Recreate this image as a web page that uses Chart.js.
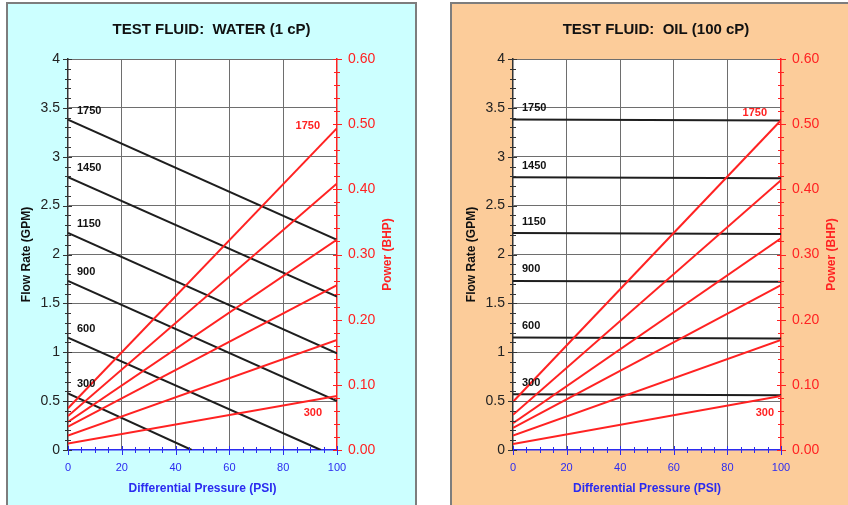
<!DOCTYPE html>
<html><head><meta charset="utf-8">
<script src="https://cdn.jsdelivr.net/npm/chart.js@4/dist/chart.umd.min.js"></script>
<style>
html,body{margin:0;padding:0;background:#fff;width:848px;height:505px;overflow:hidden;position:relative;font-family:"Liberation Sans",Arial,sans-serif}
.panel{position:absolute;box-sizing:border-box;border:2px solid #7d7d7d}
#p1{left:6px;top:2px;width:411px;height:520px;background:#ccffff}
#p2{left:450px;top:2px;width:420px;height:520px;background:#fccc9a}
canvas{position:absolute}
#c1{left:8px;top:5px}
#c2{left:453px;top:5px}
</style></head><body>
<div class="panel" id="p1"></div><div class="panel" id="p2"></div>
<canvas id="c1" width="405" height="500"></canvas>
<canvas id="c2" width="395" height="500"></canvas>
<script>
// ---- data ----
const speeds = [300, 600, 900, 1150, 1450, 1750];           // RPM labels
const xTicks = [0, 20, 40, 60, 80, 100];                    // differential pressure (PSI)
// Water (1 cP): flow rate (GPM) lines
const waterFlowStart = [0.58, 1.15, 1.73, 2.22, 2.79, 3.38]; // at 0 PSI
const waterFlowEndPsi = [46, 94, 100, 100, 100, 100];
const waterFlowEnd = [0.00, 0.00, 0.50, 0.99, 1.57, 2.15];
// Water: power (BHP) lines, at 0 and 100 PSI
const waterPowerStart = [0.010, 0.022, 0.036, 0.043, 0.052, 0.064];
const waterPowerEnd = [0.083, 0.169, 0.253, 0.323, 0.409, 0.494];
// Oil (100 cP): flow rate (GPM) lines, at 0 and 100 PSI
const oilFlowStart = [0.57, 1.15, 1.73, 2.22, 2.79, 3.38];
const oilFlowEnd = [0.56, 1.14, 1.72, 2.21, 2.78, 3.37];
// Oil: power (BHP) lines
const oilPowerStart = [0.009, 0.022, 0.034, 0.041, 0.054, 0.074];
const oilPowerEnd = [0.083, 0.169, 0.253, 0.325, 0.414, 0.506];

const FONT = '"Liberation Sans", Arial, sans-serif';
Chart.defaults.font.family = FONT;
const BLACK = '#1e1e1e', RED = '#ff2222', BLUE = '#2b2bf0', GRID = '#6e6e6e';

const deco = {
  id: 'deco',
  beforeDraw(chart) {
    const {ctx, chartArea: a} = chart;
    ctx.save(); ctx.fillStyle = '#fff';
    ctx.fillRect(a.left, a.top, a.right - a.left, a.bottom - a.top);
    ctx.restore();
  },
  afterDraw(chart) {
    const o = chart.options.plugins.deco;
    const {ctx, chartArea: a} = chart;
    const {x, y, y1} = chart.scales;
    ctx.save();
    ctx.lineWidth = 1;
    // left axis ticks
    ctx.strokeStyle = '#333';
    for (let i = 0; i <= 40; i++) {
      const p = Math.round(y.getPixelForValue(i / 10)) + 0.5, maj = i % 5 === 0;
      ctx.beginPath(); ctx.moveTo(a.left - (maj ? 5 : 3), p); ctx.lineTo(a.left + (maj ? 4 : 3), p); ctx.stroke();
    }
    // right axis ticks
    ctx.strokeStyle = RED;
    for (let i = 0; i <= 30; i++) {
      const p = Math.round(y1.getPixelForValue(i * 0.02)) + 0.5, maj = i % 5 === 0;
      ctx.beginPath(); ctx.moveTo(a.right - (maj ? 4 : 3), p); ctx.lineTo(a.right + (maj ? 5 : 3), p); ctx.stroke();
    }
    // bottom axis ticks
    ctx.strokeStyle = BLUE;
    for (let i = 0; i <= 20; i++) {
      const p = Math.round(x.getPixelForValue(i * 5)) + 0.5, maj = i % 4 === 0;
      ctx.beginPath(); ctx.moveTo(p, a.bottom - (maj ? 4 : 3)); ctx.lineTo(p, a.bottom + (maj ? 5 : 3)); ctx.stroke();
    }
    // titles
    ctx.textAlign = 'center'; ctx.textBaseline = 'middle';
    ctx.fillStyle = '#111'; ctx.font = 'bold 15px ' + FONT;
    ctx.fillText(o.title, (a.left + a.right) / 2 + 9, 25);
    ctx.font = 'bold 12px ' + FONT;
    ctx.fillStyle = BLUE;
    ctx.fillText('Differential Pressure (PSI)', (a.left + a.right) / 2, a.bottom + 39);
    const mid = (a.top + a.bottom) / 2;
    ctx.save(); ctx.translate(a.left - 41, mid); ctx.rotate(-Math.PI / 2);
    ctx.fillStyle = '#111'; ctx.fillText('Flow Rate (GPM)', 0, 0); ctx.restore();
    ctx.save(); ctx.translate(a.right + 51, mid); ctx.rotate(-Math.PI / 2);
    ctx.fillStyle = RED; ctx.fillText('Power (BHP)', 0, 0); ctx.restore();
    // speed labels on flow lines
    ctx.font = 'bold 11px ' + FONT; ctx.textAlign = 'left'; ctx.fillStyle = '#111';
    o.flowStart.forEach((v, i) => {
      ctx.fillText(String(speeds[i]), x.getPixelForValue(0) + 9, y.getPixelForValue(v) + o.labelDy);
    });
    // speed labels on power lines (lowest and highest)
    ctx.textAlign = 'right'; ctx.fillStyle = RED;
    const last = speeds.length - 1;
    ctx.fillText(String(speeds[last]), x.getPixelForValue(100) + o.topDx, y1.getPixelForValue(o.powerEnd[last]) + o.topDy);
    ctx.fillText(String(speeds[0]), x.getPixelForValue(100) + o.botDx, y1.getPixelForValue(o.powerEnd[0]) + 17);
    ctx.restore();
  }
};

function makeChart(id, title, flowStart, flowEndPsi, flowEnd, powerStart, powerEnd, rightW, style) {
  const datasets = [];
  speeds.forEach((s, i) => {
    datasets.push({label: 'Power ' + s, yAxisID: 'y1', order: 0,
      data: [{x: xTicks[0], y: powerStart[i]}, {x: xTicks[xTicks.length - 1], y: powerEnd[i]}],
      borderColor: RED, borderWidth: 2, showLine: true, pointRadius: 0});
  });
  speeds.forEach((s, i) => {
    datasets.push({label: 'Flow ' + s, yAxisID: 'y', order: 1,
      data: [{x: xTicks[0], y: flowStart[i]}, {x: flowEndPsi[i], y: flowEnd[i]}],
      borderColor: BLACK, borderWidth: 2, showLine: true, pointRadius: 0});
  });
  return new Chart(document.getElementById(id), {
    type: 'scatter',
    data: {datasets},
    options: {
      responsive: false, animation: false, devicePixelRatio: 1,
      layout: {padding: {top: 54, left: 0, right: 0, bottom: 0}},
      plugins: {legend: {display: false}, tooltip: {enabled: false}, title: {display: false},
        deco: Object.assign({title, flowStart, powerEnd}, style)},
      scales: {
        x: {type: 'linear', min: 0, max: 100,
          afterBuildTicks: s => { s.ticks = xTicks.map(v => ({value: v})); },
          afterFit: s => { s.height = 55; },
          grid: {drawTicks: false, color: c => (c.tick && (c.tick.value === 0 || c.tick.value === 100)) ? 'rgba(0,0,0,0)' : GRID, lineWidth: 1},
          border: {color: BLUE, width: 1.5},
          ticks: {color: BLUE, padding: 11, font: {size: 11}, maxRotation: 0}},
        y: {type: 'linear', position: 'left', min: 0, max: 4,
          ticks: {stepSize: 0.5, color: '#222', padding: 8, font: {size: 14}, callback: v => String(+Number(v).toFixed(1))},
          afterFit: s => { s.width = 60; },
          grid: {drawTicks: false, color: c => (c.tick && c.tick.value === 0) ? 'rgba(0,0,0,0)' : GRID, lineWidth: 1},
          border: {color: '#333', width: 1.5}},
        y1: {type: 'linear', position: 'right', min: 0, max: 0.6,
          ticks: {stepSize: 0.1, color: RED, padding: 11, font: {size: 14}, callback: v => Number(v).toFixed(2)},
          afterFit: s => { s.width = rightW; },
          grid: {drawTicks: false, drawOnChartArea: false},
          border: {color: RED, width: 1.5}}
      }
    },
    plugins: [deco]
  });
}

makeChart('c1', 'TEST FLUID:  WATER (1 cP)', waterFlowStart, waterFlowEndPsi, waterFlowEnd,
  waterPowerStart, waterPowerEnd, 76, {labelDy: -9, topDx: -17, topDy: -2, botDx: -15});
makeChart('c2', 'TEST FLUID:  OIL (100 cP)', oilFlowStart, [100, 100, 100, 100, 100, 100], oilFlowEnd,
  oilPowerStart, oilPowerEnd, 67, {labelDy: -11.5, topDx: -14, topDy: -7, botDx: -7});
</script>
</body></html>
